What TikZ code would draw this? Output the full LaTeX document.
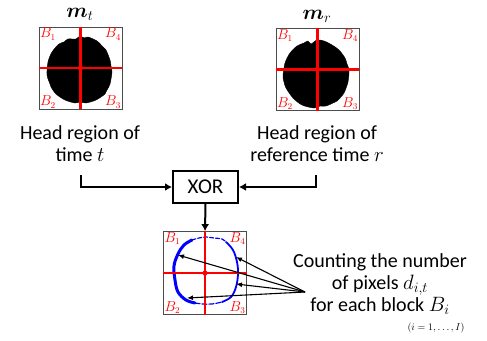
\documentclass[tikz,border=0pt]{standalone}
\usepackage{amsmath}
\usepackage{fontspec}
\setmainfont{Carlito}
\usetikzlibrary{arrows.meta,calc}

\tikzset{
  mapbox/.style={draw=black!70, line width=0.8pt, minimum width=83pt, minimum height=82pt, inner sep=0pt},
  crossline/.style={red, line width=2.6pt},
  blocklabel/.style={text=red, inner sep=1.2pt, font=\fontsize{13.5}{15}\selectfont},
  caption/.style={align=center, font=\fontsize{20}{22}\selectfont, inner sep=0pt},
  flow/.style={line width=2pt, -{Latex[length=7pt,width=8pt]}},
  pointer/.style={line width=1.1pt, -{Latex[length=6pt,width=5pt]}},
  blob/.style={fill=black, draw=black, line width=0.4pt},
  ring/.style={blue, line cap=round},
  maptitle/.style={font=\fontsize{21}{22}\selectfont, inner sep=0pt}
}

\newcommand{\gridmarks}[1]{%
  \draw[crossline] (#1.north) -- (#1.south);
  \draw[crossline] (#1.west) -- (#1.east);
  \fill[red] (#1.center) circle (2.6pt);
  \node[blocklabel, anchor=north west] at (#1.north west) {$B_1$};
  \node[blocklabel, anchor=north east] at (#1.north east) {$B_4$};
  \node[blocklabel, anchor=south west] at (#1.south west) {$B_2$};
  \node[blocklabel, anchor=south east] at (#1.south east) {$B_3$};
}

\begin{document}
\begin{tikzpicture}[x=1pt, y=-1pt]
\useasboundingbox (0,0) rectangle (487,340);

% mask at time t
\node[mapbox] (mt) at (80.5,68) {};
\fill[blob] plot[smooth cycle, tension=0.5] coordinates {
  (80,36) (84,38) (88,37) (97,41) (103,47) (106,50) (110,60) (111,66) (112,72) (110,84) (107,90) (105,94) (96,100)
  (86,103) (80,102) (75,103) (65,100) (56,94) (51,87) (50,84) (47,75) (48,62) (52,52) (59,44) (64,42) (68,39) (76,39)};
\gridmarks{mt}
\node[maptitle, anchor=base] (tt) at (80,17) {$\boldsymbol{m}_t$};

% mask at reference time r
\node[mapbox] (mr) at (317.5,69.5) {};
\fill[blob] plot[smooth cycle, tension=0.5] coordinates {
  (317,40) (324,41) (332,45) (339,50) (345,58) (347,64) (349,70) (348,82) (344,93) (340,98) (337,101)
  (326,106) (320,106) (314,108) (302,105) (293,98) (286,88) (284,82) (283,76) (285,63) (290,53) (297,46) (304,43) (308,41) (311,44)};
\gridmarks{mr}
\node[maptitle, anchor=base] (tr) at (317,19) {$\boldsymbol{m}_r$};

% captions
\node[caption] (ht) at (80,144) {Head region of\\time $t$};
\node[caption] (hr) at (317,144) {Head region of\\reference time $r$};

% XOR block
\node[draw, line width=2pt, minimum width=65pt, minimum height=32pt, inner sep=0pt,
      font=\fontsize{21}{24}\selectfont] (xor) at (205.5,187) {XOR};

\coordinate (ts) at (81,175);
\coordinate (rs) at (316,175);
\draw[flow] (ts) |- (xor.west);
\draw[flow] (rs) |- (xor.east);

% difference map
\node[mapbox, minimum height=83pt] (md) at (205,273) {};
\draw[flow] (xor.south) -- (md.north);

% blue outline of the difference
\draw[ring, line width=3pt] plot[smooth, tension=0.6] coordinates {
  (192,240) (184,245) (178,254) (174,266) (175,280) (178,292) (186,300) (195,303)};
\draw[ring, line width=1.8pt] plot[smooth, tension=0.6] coordinates {
  (226,242) (233,250) (237,262) (238,274) (236,287) (231,297) (222,302)};
\draw[ring, line width=1.2pt, dash pattern=on 4pt off 2pt] plot[smooth, tension=0.6] coordinates {
  (192,240) (199,238) (206,237) (214,238) (222,239) (226,242)};
\draw[ring, line width=1.2pt, dash pattern=on 5pt off 2pt] plot[smooth, tension=0.6] coordinates {
  (195,303) (203,304) (212,304) (222,302)};
\gridmarks{md}

% counting annotation
\node[caption, align=center] (cnt) at (380,284) {Counting the number\\of pixels $d_{i,t}$\\for each block $B_i$};
\node[font=\fontsize{10}{12}\selectfont] (rng) at (436,328) {$(i=1,\ldots,I)$};

\coordinate (src) at (305,292);
\coordinate (e1) at (178,255);
\coordinate (e2) at (236,257);
\coordinate (e3) at (236,284);
\coordinate (e4) at (187,298);
\foreach \e in {e1,e2,e3,e4} \draw[pointer] (src) -- (\e);
\end{tikzpicture}
\end{document}
